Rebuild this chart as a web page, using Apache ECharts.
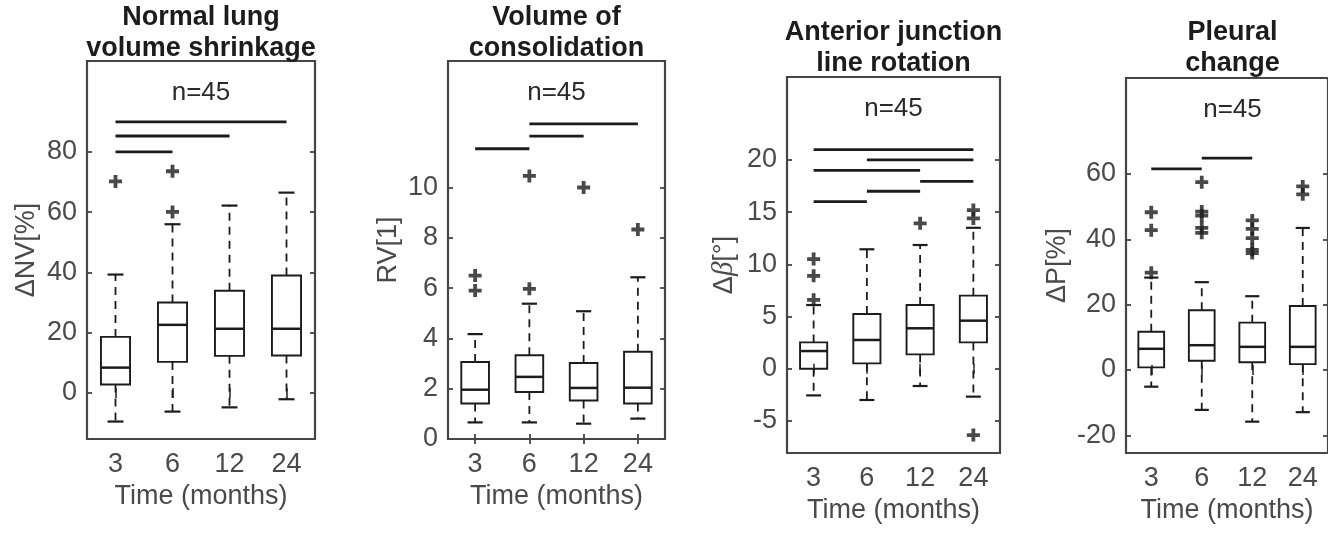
<!DOCTYPE html>
<html>
<head>
<meta charset="utf-8">
<script src="https://cdn.jsdelivr.net/npm/echarts@6.0.0/dist/echarts.min.js"></script>
<style>
html,body{margin:0;padding:0;background:#fff;}
#chart{width:1328px;height:552px;}
</style>
</head>
<body>
<div id="chart"></div>
<script>
// ---------- data ----------
const categories = ['3', '6', '12', '24'];
const xAxisName = 'Time (months)';
const sampleLabel = 'n=45';

// Panel 1: Normal lung volume shrinkage  [min, Q1, median, Q3, max]
const nvTitle = 'Normal lung\nvolume shrinkage';
const nvBoxes = [[-9.5, 2.8, 8.4, 18.6, 39.3], [-6.2, 10.3, 22.6, 30.0, 56.0], [-4.8, 12.3, 21.3, 33.9, 62.2], [-2.1, 12.4, 21.3, 39.0, 66.5]];
const nvOutliers = [[0, 70.2], [1, 60.1], [1, 73.6]];
const nvSig = [[0, 3, 90], [0, 2, 85.3], [0, 1, 80]];
const nvTicks = [0, 20, 40, 60, 80];

// Panel 2: Volume of consolidation
const rvTitle = 'Volume of\nconsolidation';
const rvBoxes = [[0.66, 1.41, 1.96, 3.06, 4.17], [0.66, 1.87, 2.47, 3.33, 5.38], [0.61, 1.53, 2.03, 3.02, 5.08], [0.81, 1.41, 2.04, 3.47, 6.43]];
const rvOutliers = [[0, 5.9], [0, 6.5], [1, 5.97], [1, 10.46], [2, 10.0], [3, 8.33]];
const rvSig = [[0, 1, 11.54], [1, 2, 12.04], [1, 3, 12.53]];
const rvTicks = [0, 2, 4, 6, 8, 10];

// Panel 3: Anterior junction line rotation
const abTitle = 'Anterior junction\nline rotation';
const abBoxes = [[-2.56, 0.0, 1.69, 2.52, 6.1], [-3.0, 0.51, 2.75, 5.24, 11.44], [-1.66, 1.37, 3.87, 6.1, 11.85], [-2.68, 2.52, 4.6, 7.0, 13.5]];
const abOutliers = [[0, 6.6], [0, 8.9], [0, 10.5], [2, 13.93], [3, 14.4], [3, 15.2], [3, -6.36]];
const abSig = [[0, 3, 21], [1, 3, 20], [0, 2, 19], [2, 3, 17.95], [1, 2, 17], [0, 1, 16]];
const abTicks = [-5, 0, 5, 10, 15, 20];

// Panel 4: Pleural change
const pTitle = 'Pleural\nchange';
const pBoxes = [[-5.1, 0.8, 6.5, 11.7, 28.3], [-12.2, 2.85, 7.6, 18.3, 26.9], [-15.8, 2.4, 7.1, 14.5, 22.6], [-12.9, 1.8, 7.1, 19.6, 43.5]];
const pOutliers = [[0, 29.8], [0, 42.8], [0, 48.3], [1, 42.0], [1, 43.5], [1, 47.3], [1, 48.5], [1, 57.5],
                   [2, 35.8], [2, 36.8], [2, 40.4], [2, 43.2], [2, 45.8], [3, 53.8], [3, 56.2]];
const pSig = [[0, 1, 61.6], [1, 2, 64.9]];
const pTicks = [-20, 0, 20, 40, 60];

// ---------- layout / style ----------
const FONT = '"Liberation Sans", Arial, Helvetica, sans-serif';
const FS = 27;
const LABEL_COLOR = '#4a4a4a';
const AXIS_COLOR = '#454545';
const INK = '#1c1c1c';
const PLUS = 'path://M0,8.5H24V15.5H0Z M8.5,0H15.5V24H8.5Z';

const panels = [
  {title: nvTitle, boxes: nvBoxes, outliers: nvOutliers, sig: nvSig, ticks: nvTicks, yName: 'ΔNV[%]',
   left: 87, top: 61, width: 228, height: 378, min: -15.3, max: 110.2, titleY: 33.5, nameGap: 47, xNameGap: 44},
  {title: rvTitle, boxes: rvBoxes, outliers: rvOutliers, sig: rvSig, ticks: rvTicks, yName: 'RV[1]',
   left: 448, top: 61, width: 217, height: 378, min: 0, max: 15.03, titleY: 33.5, nameGap: 46, xNameGap: 44},
  {title: abTitle, boxes: abBoxes, outliers: abOutliers, sig: abSig, ticks: abTicks, yName: '{n|Δ}{i|β}{n|[°]}',
   left: 787, top: 77, width: 213, height: 376, min: -8.08, max: 27.95, titleY: 48.5, nameGap: 48, xNameGap: 41},
  {title: pTitle, boxes: pBoxes, outliers: pOutliers, sig: pSig, ticks: pTicks, yName: 'ΔP[%]',
   left: 1126, top: 78, width: 213, height: 375, min: -25.4, max: 89.4, titleY: 48.5, nameGap: 55, xNameGap: 41}
];

function renderBox(params, api) {
  const k = api.value(0);
  const bw = api.size([1, 0])[0];
  const yOf = v => api.coord([k, v])[1];
  const cx = api.coord([k, api.value(3)])[0];
  const half = bw * 0.255, cap = bw * 0.14;
  const lo = yOf(api.value(1)), q1 = yOf(api.value(2)), md = yOf(api.value(3)), q3 = yOf(api.value(4)), hi = yOf(api.value(5));
  const dash = {stroke: INK, lineWidth: 1.8, lineDash: [8, 6]};
  const solid = {stroke: INK, lineWidth: 2.2};
  return {type: 'group', children: [
    {type: 'line', shape: {x1: cx, y1: q3, x2: cx, y2: hi}, style: dash},
    {type: 'line', shape: {x1: cx, y1: q1, x2: cx, y2: lo}, style: dash},
    {type: 'line', shape: {x1: cx - cap, y1: hi, x2: cx + cap, y2: hi}, style: solid},
    {type: 'line', shape: {x1: cx - cap, y1: lo, x2: cx + cap, y2: lo}, style: solid},
    {type: 'rect', shape: {x: cx - half, y: q3, width: 2 * half, height: q1 - q3}, style: {fill: 'rgba(0,0,0,0)', stroke: INK, lineWidth: 1.9}},
    {type: 'line', shape: {x1: cx - half, y1: md, x2: cx + half, y2: md}, style: {stroke: INK, lineWidth: 2.5}}
  ]};
}

function renderSig(params, api) {
  const p1 = api.coord([api.value(0), api.value(2)]);
  const p2 = api.coord([api.value(1), api.value(2)]);
  return {type: 'line', shape: {x1: p1[0], y1: p1[1], x2: p2[0], y2: p2[1]}, style: {stroke: INK, lineWidth: 2.8}};
}

const grid = [], xAxis = [], yAxis = [], series = [], graphic = [];
panels.forEach((p, i) => {
  grid.push({left: p.left, top: p.top, width: p.width, height: p.height, show: true,
             borderColor: AXIS_COLOR, borderWidth: 2.2, backgroundColor: 'transparent', containLabel: false});
  const tickStyle = {show: true, inside: true, length: 5, lineStyle: {color: AXIS_COLOR, width: 1.8}};
  xAxis.push({type: 'category', gridIndex: i, data: categories, position: 'bottom', boundaryGap: true,
    axisLine: {show: false}, splitLine: {show: false},
    axisTick: Object.assign({alignWithLabel: true}, tickStyle),
    axisLabel: {color: LABEL_COLOR, fontSize: FS, fontFamily: FONT, margin: 12},
    name: xAxisName, nameLocation: 'middle', nameGap: p.xNameGap,
    nameTextStyle: {color: LABEL_COLOR, fontSize: FS, fontFamily: FONT}});
  xAxis.push({type: 'category', gridIndex: i, data: categories, position: 'top', boundaryGap: true,
    axisLine: {show: false}, splitLine: {show: false},
    axisTick: Object.assign({alignWithLabel: true}, tickStyle), axisLabel: {show: false}});
  yAxis.push({type: 'value', gridIndex: i, position: 'left', min: p.min, max: p.max,
    axisLine: {show: false}, splitLine: {show: false},
    axisTick: Object.assign({customValues: p.ticks}, tickStyle),
    axisLabel: {customValues: p.ticks, color: LABEL_COLOR, fontSize: FS, fontFamily: FONT, margin: 10},
    name: p.yName, nameLocation: 'middle', nameRotate: 90, nameGap: p.nameGap,
    nameTextStyle: {color: LABEL_COLOR, fontSize: FS, fontFamily: FONT,
      rich: {n: {color: LABEL_COLOR, fontSize: FS, fontFamily: FONT},
             i: {color: LABEL_COLOR, fontSize: FS + 2, fontFamily: '"Liberation Serif", "DejaVu Serif", serif', fontStyle: 'italic'}}}});
  yAxis.push({type: 'value', gridIndex: i, position: 'right', min: p.min, max: p.max,
    axisLine: {show: false}, splitLine: {show: false},
    axisTick: Object.assign({customValues: p.ticks}, tickStyle), axisLabel: {show: false}});

  const xi = i * 2, yi = i * 2;
  series.push({type: 'custom', xAxisIndex: xi, yAxisIndex: yi, renderItem: renderBox,
    encode: {x: 0, y: [1, 2, 3, 4, 5]}, data: p.boxes.map((b, k) => [k].concat(b)), silent: true, z: 3});
  series.push({type: 'scatter', xAxisIndex: xi, yAxisIndex: yi, symbol: PLUS, symbolSize: 13,
    itemStyle: {color: INK}, data: p.outliers, silent: true, z: 4});
  series.push({type: 'custom', xAxisIndex: xi, yAxisIndex: yi, renderItem: renderSig,
    encode: {x: [0, 1], y: 2}, data: p.sig, silent: true, z: 4});

  const cx = p.left + p.width / 2;
  graphic.push({type: 'text', x: cx, y: p.titleY, style: {text: p.title, align: 'center', verticalAlign: 'middle',
    fontSize: FS, fontWeight: 'bold', fontFamily: FONT, fill: INK, lineHeight: 31}});
  graphic.push({type: 'text', x: cx, y: p.top + 32, style: {text: sampleLabel, align: 'center', verticalAlign: 'middle',
    fontSize: 26, fontFamily: FONT, fill: '#2a2a2a'}});
});

const chart = echarts.init(document.getElementById('chart'), null, {renderer: 'canvas'});
chart.setOption({backgroundColor: '#ffffff', animation: false, grid, xAxis, yAxis, series, graphic});
</script>
</body>
</html>
